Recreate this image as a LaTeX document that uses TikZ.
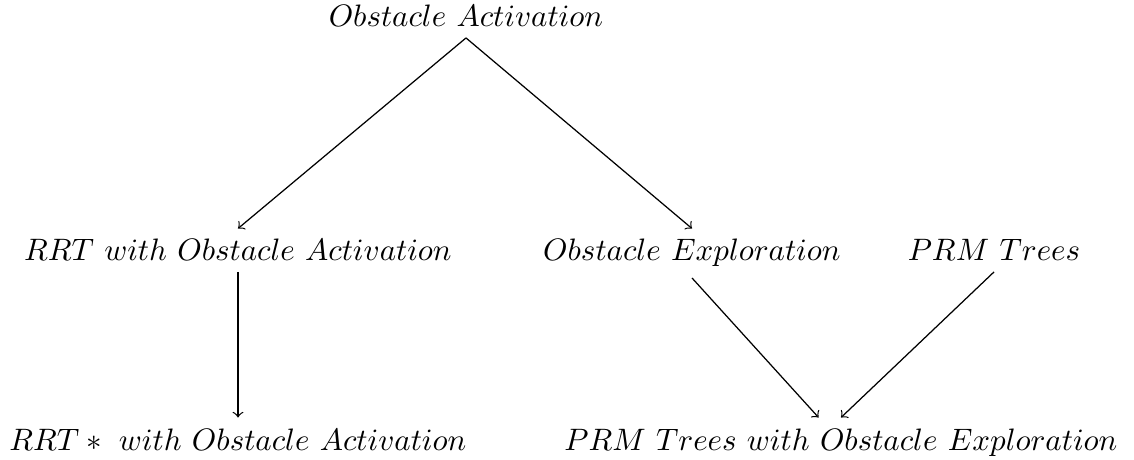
\documentclass[tikz,border=0pt]{standalone}
\begin{document}
\begin{tikzpicture}[x=0.3226pt, y=-0.3226pt, >=to,
  lbl/.style={inner sep=3.33pt, anchor=base},
  edge/.style={->}]
\useasboundingbox (0,0) rectangle (1134,460);
\node[lbl] (top) at (466,27) {$Obstacle\ Activation$};
\node[lbl] (rrt) at (238,261) {$RRT\ with\ Obstacle\ Activation$};
\node[lbl] (oe) at (692,261) {$Obstacle\ Exploration$};
\node[lbl] (prm) at (994,261) {$PRM\ Trees$};
\node[lbl] (rrts) at (238,450) {$RRT*\ with\ Obstacle\ Activation$};
\node[lbl] (pnode) at (841,450) {$PRM\ Trees\ with\ Obstacle\ Exploration$};
\draw[edge] (top.south) -- (rrt.north);
\draw[edge] (top.south) -- (oe.north);
\draw[edge] (rrt.south) -- (rrts.north);
\draw[edge] (oe.south) -- (pnode);
\draw[edge] (prm.south) -- (pnode.north);
\end{tikzpicture}
\end{document}
